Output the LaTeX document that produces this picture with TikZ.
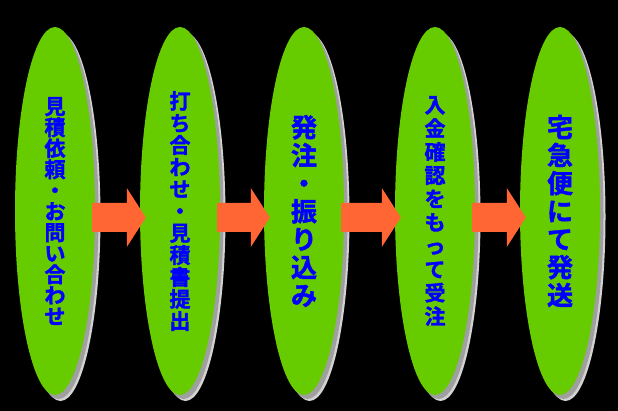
\documentclass[tikz,border=0pt]{standalone}
\usepackage{fontspec}
\newfontfamily\jpfont{Noto Sans CJK JP}[BoldFont={Noto Sans CJK JP Bold}, BoldFeatures={FakeBold=1.6}]
\usetikzlibrary{shapes.geometric,shadows,calc}

\definecolor{leafgreen}{RGB}{102,204,0}
\definecolor{arroworange}{RGB}{255,102,51}
\definecolor{letterblue}{RGB}{0,0,255}

\begin{document}
\begin{tikzpicture}[
  x=1pt,
  y=-1pt,
  stage/.style={
    ellipse,
    fill=leafgreen,
    inner sep=0pt,
    minimum width=80pt,
    minimum height=368pt,
    text=letterblue,
    align=center,
    general shadow={fill=gray!35, shadow xshift=5.5pt, shadow yshift=-6pt},
    general shadow={fill=gray!75, shadow xshift=3.5pt, shadow yshift=-4pt}
  },
  letters/.style 2 args={
    font={\jpfont\bfseries\fontsize{#1}{#2}\selectfont}
  },
  pointer/.style={
    fill=arroworange
  }
]

% background
\fill[black] (0,0) rectangle (618,411);
\useasboundingbox (0,0) rectangle (618,411);

%-----------------------------
% Stages
%-----------------------------
\node[stage, letters={21}{21}]   (s1) at (55,211)  {見\\積\\依\\頼\\・\\お\\問\\い\\合\\わ\\せ};
\node[stage, letters={21}{22}]   (s2) at (180,211) {打\\ち\\合\\わ\\せ\\・\\見\\積\\書\\提\\出};
\node[stage, letters={26}{28}]   (s3) at (304,211) {発\\注\\・\\振\\り\\込\\み};
\node[stage, letters={21}{23.5}] (s4) at (435,211) {入\\金\\確\\認\\を\\も\\っ\\て\\受\\注};
\node[stage, letters={26}{28}]   (s5) at (560,211) {宅\\急\\便\\に\\て\\発\\送};

%-----------------------------
% Block arrows between stages
%-----------------------------
\foreach \a/\b in {s1/s2, s2/s3, s3/s4, s4/s5}{
  \coordinate (tip) at ($(\b.west)+(6,6.5)$);
  \fill[pointer] ($(\a.east)+(-3,-8)$) -- ($(tip)+(-19,-14.5)$)
    -- ($(tip)+(-19,-29.5)$) -- (tip) -- ($(tip)+(-19,29.5)$)
    -- ($(tip)+(-19,14.5)$) -- ($(\a.east)+(-3,21)$) -- cycle;
}

\end{tikzpicture}
\end{document}
